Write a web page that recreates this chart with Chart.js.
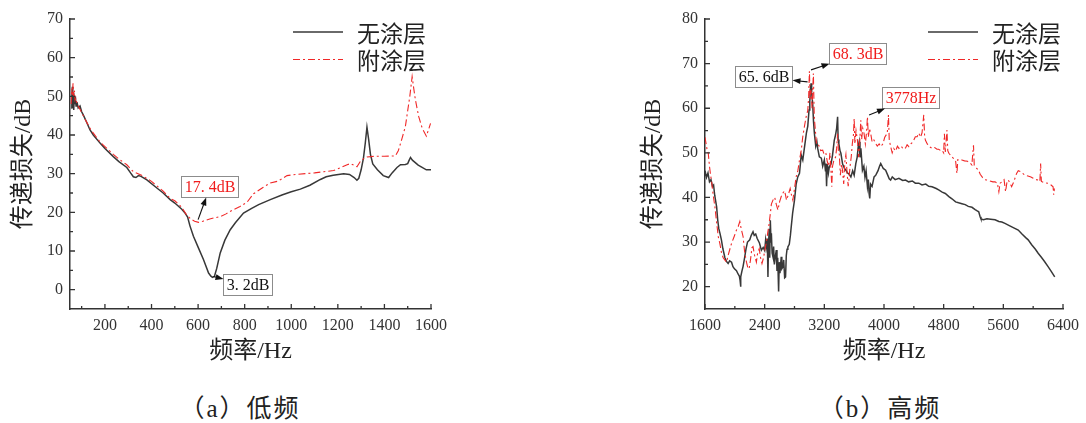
<!DOCTYPE html>
<html>
<head>
<meta charset="utf-8">
<title>传递损失</title>
<script src="https://cdn.jsdelivr.net/npm/chart.js@4.4.1/dist/chart.umd.min.js"></script>
<style>
  html, body { margin: 0; padding: 0; background: #fff; }
  body { width: 1086px; height: 423px; position: relative; overflow: hidden; }
  canvas { position: absolute; top: 0; }
  #cLow { left: 0; }
  #cHigh { left: 600px; }
  .cap { position: absolute; top: 394px; line-height: 30px; font-size: 25px; letter-spacing: 2px;
         font-family: 'Liberation Serif', 'Noto Sans CJK SC', serif; color: #222;
         transform: translateX(-50%); white-space: nowrap; }
</style>
</head>
<body>
<canvas id="cLow" width="543" height="380"></canvas>
<canvas id="cHigh" width="486" height="380"></canvas>
<div class="cap" style="left:240px">（a）低频</div>
<div class="cap" style="left:880px">（b）高频</div>
<script>
// Series names
const seriesNames = ['无涂层', '附涂层'];

// Tick values
const lowTicksX = [200, 400, 600, 800, 1000, 1200, 1400, 1600];
const lowTicksY = [0, 10, 20, 30, 40, 50, 60, 70];
const highTicksX = [1600, 2400, 3200, 4000, 4800, 5600, 6400];
const highTicksY = [20, 30, 40, 50, 60, 70, 80];

// Low band, uncoated: [Hz, dB]
const lowBare = [
  [55,47],[58,50],[60,52.5],[62,47],[64,51],[66,46.5],[68,50],[70,48],[73,50],[76,47.5],
  [80,48.5],[85,47],[93,47.5],[100,46],[107,45.2],[120,43.5],[136,41.3],[150,40],[179,37.9],[200,36.5],
  [236,34.4],[260,33.1],[294,31.6],[310,30.2],[322,29.2],[333,29],[344,29.5],[355,29.3],[380,28.4],[423,26.3],
  [450,25],[480,23.3],[500,22.4],[530,20.8],[544,19.8],[555,18.8],[565,16.5],[580,13.8],[600,11],[623,7.8],
  [645,4.3],[655,3.5],[662,3.2],[670,3.4],[680,5.5],[695,9.5],[715,12.8],[738,15.5],[760,17.3],[795,19.8],
  [830,21],[860,22],[910,23.3],[960,24.5],[1000,25.3],[1039,26],[1080,27],[1125,28.5],[1150,29.2],[1180,29.6],
  [1225,30],[1250,29.8],[1270,29],[1282,28.3],[1290,28.8],[1300,31],[1310,34],[1318,38],[1325,42],[1332,39],
  [1340,35],[1350,32.5],[1370,31],[1395,29.5],[1418,29],[1433,30.2],[1454,31.6],[1469,32.3],[1490,32.4],[1500,32.6],
  [1505,33.3],[1512,34.2],[1520,33.5],[1530,33],[1545,32.2],[1560,31.7],[1580,31],[1600,31]
];

// Low band, coated: [Hz, dB]
const lowCoated = [
  [55,48],[58,52],[60,50],[63,53.4],[66,50],[69,51.5],[72,49],[76,49.5],[80,48],[90,47],
  [100,45.8],[120,43.5],[140,41.3],[179,38.2],[200,37],[236,35],[260,33.8],[294,32.3],[322,30.5],[360,29.5],
  [400,28],[450,25.5],[480,23.6],[500,23],[530,21.3],[552,19.2],[570,18.2],[585,17.7],[602,17.4],[620,17.7],
  [650,18.3],[695,18.9],[720,19.6],[752,20.7],[780,21.5],[810,22.6],[838,24.8],[853,25.4],[880,26.5],[910,27.6],
  [939,28],[955,28.5],[982,29.5],[1020,29.8],[1060,30],[1100,30.2],[1140,30.5],[1182,30.8],[1210,31.5],[1240,32.3],
  [1254,32.6],[1282,31.8],[1300,33.5],[1325,34.3],[1360,34.5],[1400,34.5],[1447,34.6],[1460,36],[1475,39],[1490,42.2],
  [1509,50],[1519,55.1],[1526,52],[1533,49.1],[1547,44.8],[1562,41.8],[1580,39.7],[1590,41.5],[1598,43]
];

// High band, uncoated: [Hz, dB]
const highBare = [
  [1600,46],[1620,44.5],[1640,45.5],[1660,43.5],[1680,44],[1700,42.5],[1715,42.8],[1730,40.5],[1745,39],[1756,37.9],
  [1770,35],[1785,33],[1800,32],[1820,30.5],[1840,28.5],[1867,26.5],[1890,25.6],[1910,25.2],[1930,25.8],[1956,25.5],
  [1975,24.5],[1995,24],[2022,23.6],[2045,22.8],[2060,22.4],[2070,21.5],[2076,20],[2082,22.2],[2095,23.5],[2110,24.5],
  [2133,26.7],[2150,28.5],[2170,30],[2200,30.5],[2220,31.5],[2244,32.3],[2260,31.5],[2280,31.8],[2300,30.8],[2330,29.8],
  [2356,28.2],[2380,28.8],[2400,28.1],[2413,30.5],[2425,29],[2435,30.8],[2444,22.2],[2450,28],[2460,33],[2468,26.5],
  [2476,34.9],[2485,30],[2490,32],[2500,27.5],[2511,26.7],[2520,29],[2530,25],[2545,27],[2556,28.2],[2565,23.5],
  [2575,26.5],[2587,18.9],[2595,25.5],[2605,23],[2622,26.7],[2630,24],[2644,24.4],[2655,26],[2668,22],[2680,22.2],
  [2690,27],[2700,28.4],[2711,28.9],[2730,29.5],[2745,31.5],[2756,33.4],[2775,36.5],[2800,39.4],[2822,43],[2844,44.6],
  [2867,45.4],[2890,49.5],[2911,48.4],[2940,52],[2960,54.5],[2978,56],[2995,59.6],[3005,61.5],[3015,64.5],[3022,65.6],
  [3030,63.5],[3044,61],[3055,57],[3067,54.3],[3085,51.5],[3100,52.5],[3111,51],[3133,49.1],[3160,48.8],[3178,47],
  [3200,48.4],[3215,46],[3222,47.6],[3230,42.5],[3240,47.5],[3255,45.5],[3267,46.9],[3290,47.5],[3310,49.5],[3333,52.8],
  [3350,54],[3365,55.5],[3378,58.1],[3385,53],[3395,52],[3410,50.5],[3422,49.9],[3445,47.5],[3470,46.5],[3489,46.1],
  [3510,45.5],[3533,45.2],[3556,44.6],[3580,46],[3600,45],[3622,47.6],[3640,49],[3655,51.5],[3667,52.5],[3678,49],
  [3690,51],[3711,46.1],[3730,47],[3745,44.5],[3760,46],[3778,42.4],[3790,44],[3800,40.9],[3809,39.8],[3820,43],
  [3840,42.5],[3867,44.6],[3890,45],[3920,46],[3940,47],[3956,47.6],[3975,47],[3990,46.5],[4022,46.1],[4050,45],
  [4070,44.2],[4089,43.9],[4111,44.6],[4150,44],[4200,44.3],[4250,43.8],[4289,43.9],[4330,43.5],[4380,43.7],[4420,43.2],
  [4467,43.2],[4510,42.8],[4560,43],[4600,42.5],[4644,42.4],[4700,42],[4733,41.7],[4780,41.2],[4822,40.9],[4870,40.2],
  [4911,39.7],[4960,39],[5000,38.8],[5044,38.6],[5089,38.4],[5130,38],[5180,37.8],[5222,37.3],[5250,37],[5270,36.8],
  [5289,35.7],[5300,35.2],[5333,35],[5380,35.2],[5430,35.1],[5489,35],[5540,34.6],[5580,34.5],[5622,34.2],[5680,33.7],
  [5740,33.2],[5800,32.7],[5850,31.8],[5900,31],[5933,30.5],[5980,29.4],[6030,28.4],[6067,27.5],[6110,26.6],[6150,25.7],
  [6200,24.5],[6240,23.5],[6289,22.2]
];

// High band, coated: [Hz, dB]
const highCoated = [
  [1600,53.5],[1615,52],[1630,50.5],[1644,49.9],[1660,47],[1675,45],[1689,43.5],[1710,40.5],[1733,37.9],[1755,34.5],
  [1778,31.2],[1800,29.6],[1822,27.5],[1844,26.5],[1865,26],[1889,25.5],[1910,27],[1935,28.5],[1956,29.7],[1990,31.2],
  [2022,32.7],[2045,33.5],[2067,34.6],[2085,33],[2111,31.2],[2130,28],[2156,25.5],[2175,24.2],[2191,24],[2210,26],
  [2230,28.8],[2244,29],[2265,27],[2289,25.5],[2305,27.5],[2327,28.5],[2345,26.5],[2364,25.2],[2385,26.5],[2405,28.5],
  [2422,29.9],[2440,32],[2455,33.5],[2476,36.4],[2490,38.5],[2511,39.4],[2535,40],[2555,38.5],[2578,37.2],[2600,39],
  [2622,40.2],[2645,41],[2667,41.5],[2680,40.5],[2693,39.4],[2715,40.5],[2742,42],[2760,40.5],[2778,39.4],[2800,42],
  [2822,44.6],[2845,46],[2867,48.4],[2890,50.5],[2910,53.5],[2933,55.9],[2955,58],[2978,59.5],[2990,62.6],[3000,68.3],
  [3010,62],[3022,64],[3035,60],[3053,67.8],[3065,58],[3080,55],[3095,52],[3111,52.1],[3133,51.4],[3150,50.5],
  [3178,50.6],[3200,49.5],[3222,49.8],[3240,48],[3260,47],[3275,50],[3289,46.1],[3300,42.4],[3310,47],[3330,48.5],
  [3350,49],[3365,51],[3378,54.3],[3390,50],[3400,49.9],[3415,45],[3430,47.5],[3444,46.1],[3460,43],[3475,48],
  [3489,49.6],[3505,45.5],[3520,42.5],[3533,44.6],[3545,47],[3560,49],[3575,52],[3590,54],[3600,57.7],[3610,52],
  [3625,55],[3644,52.8],[3660,49],[3670,51],[3689,57.3],[3700,53],[3715,55.5],[3733,54.3],[3750,52],[3765,54.5],
  [3778,58.1],[3790,53.5],[3805,55.5],[3822,54.3],[3840,52.5],[3860,53],[3889,52.1],[3910,51.5],[3935,52],[3956,51.4],
  [3985,52],[4010,53.5],[4044,54.4],[4060,58.5],[4070,53],[4089,51.4],[4110,50],[4130,51],[4156,50.4],[4180,51.5],
  [4200,51],[4230,51.5],[4260,50.8],[4289,51.1],[4310,51.8],[4333,51.4],[4360,52],[4390,52.5],[4420,53.6],[4444,53.6],
  [4467,54.4],[4490,53.5],[4510,54.5],[4533,58.5],[4545,53.5],[4556,52.8],[4580,52],[4600,51.5],[4644,51],[4680,51.2],
  [4710,50.8],[4733,50.8],[4760,50.5],[4778,50.6],[4800,50],[4810,54.3],[4822,50.2],[4844,55.1],[4855,50.5],[4870,49.9],
  [4890,49.5],[4911,49.1],[4940,48.6],[4960,48.2],[4978,45.4],[4990,48.5],[5020,48.5],[5044,48.4],[5080,48.2],[5120,48.1],
  [5150,47.8],[5178,47.3],[5200,51.7],[5210,47.2],[5240,46.6],[5267,46.1],[5290,45.2],[5320,44.5],[5350,44],[5378,43.9],
  [5420,43.7],[5460,43.5],[5489,43.5],[5520,43.2],[5540,41.3],[5556,43.2],[5580,43.5],[5610,44],[5630,41.3],[5650,43.6],
  [5667,43.9],[5690,43.2],[5711,42.4],[5740,43.5],[5778,45.4],[5800,46],[5830,45.8],[5860,45.4],[5889,45],[5930,44.8],
  [5970,44.6],[6000,44.3],[6040,44],[6067,43.9],[6090,43.6],[6100,47.6],[6110,43.6],[6150,43.3],[6200,43.2],[6240,42.8],
  [6267,42.4],[6275,40.6],[6285,42]
];

// Callout labels: the stated value, the point the arrow leaves from, the label centre (data units)
const lowCallouts = [
  { value: 17.4, unit: 'dB', color: '#f01c1c', from: [600, 18.1], box: [647, 26.8] },
  { value: 3.2, unit: 'dB', color: '#111111', from: [666, 3.4], box: [812, 1.4] }
];
const highCallouts = [
  { value: 65.6, unit: 'dB', color: '#111111', from: [2975, 65.9], box: [2378, 67.1] },
  { value: 68.3, unit: 'dB', color: '#f01c1c', from: [3022, 68.6], box: [3640, 72.2] },
  { value: 3778, unit: 'Hz', color: '#f01c1c', from: [3800, 58.5], box: [4356, 62.4] }
];

const BARE_COLOR = '#383838';
const COAT_COLOR = '#f02828';
const AXIS_COLOR = '#333333';
const SERIF = "'Liberation Serif', 'Noto Sans CJK SC', serif";
const CJK = "'Noto Sans CJK SC', sans-serif";

const toPts = arr => arr.map(([x, y]) => ({ x, y }));
const calloutText = c => Number.isInteger(c.value) ? c.value + c.unit
  : String(c.value).replace('.', '. ') + c.unit;

// Inward major and minor tick marks along the bottom and left axes
const inwardTicks = {
  id: 'inwardTicks',
  afterDatasetsDraw(chart, args, o) {
    const { ctx, chartArea: a } = chart;
    const marks = scale => {
      const major = scale.ticks.map(t => t.value);
      const step = major[1] - major[0];
      const minor = [];
      major.forEach(v => [v - step / 2, v + step / 2].forEach(m => {
        if (m > scale.min && m < scale.max && !minor.includes(m)) minor.push(m);
      }));
      return { major, minor };
    };
    ctx.save();
    ctx.strokeStyle = o.color;
    ctx.lineWidth = o.width;
    const xs = chart.scales.x, ys = chart.scales.y;
    const mx = marks(xs), my = marks(ys);
    ctx.beginPath();
    mx.major.forEach(v => { const p = xs.getPixelForValue(v); ctx.moveTo(p, a.bottom); ctx.lineTo(p, a.bottom - o.major); });
    mx.minor.forEach(v => { const p = xs.getPixelForValue(v); ctx.moveTo(p, a.bottom); ctx.lineTo(p, a.bottom - o.minor); });
    my.major.forEach(v => { const p = ys.getPixelForValue(v); ctx.moveTo(a.left, p); ctx.lineTo(a.left + o.major, p); });
    my.minor.forEach(v => { const p = ys.getPixelForValue(v); ctx.moveTo(a.left, p); ctx.lineTo(a.left + o.minor, p); });
    ctx.stroke();
    ctx.restore();
  }
};

// Legend in the upper right of the plot: line sample followed by the series name
const pairLegend = {
  id: 'pairLegend',
  afterDatasetsDraw(chart, args, o) {
    const { ctx } = chart;
    chart.data.datasets.forEach((ds, i) => {
      const y = o.y + i * o.gap;
      ctx.save();
      ctx.strokeStyle = ds.borderColor;
      ctx.lineWidth = ds.borderWidth;
      ctx.setLineDash(ds.borderDash || []);
      ctx.beginPath();
      ctx.moveTo(o.x, y);
      ctx.lineTo(o.x + o.len, y);
      ctx.stroke();
      ctx.setLineDash([]);
      ctx.fillStyle = '#222';
      ctx.font = o.font;
      ctx.textAlign = 'left';
      ctx.textBaseline = 'middle';
      ctx.fillText(ds.label, o.x + o.len + o.textGap, y + 1);
      ctx.restore();
    });
  }
};

// Boxed value labels with arrows pointing at the box
const callouts = {
  id: 'callouts',
  afterDatasetsDraw(chart, args, o) {
    const { ctx } = chart;
    const xs = chart.scales.x, ys = chart.scales.y;
    o.items.forEach(c => {
      const text = calloutText(c);
      ctx.save();
      ctx.font = o.font;
      const w = Math.round(ctx.measureText(text).width + 2 * o.padX);
      const h = o.height;
      const cx = xs.getPixelForValue(c.box[0]);
      const cy = ys.getPixelForValue(c.box[1]);
      const L = Math.round(cx - w / 2) + 0.5, T = Math.round(cy - h / 2) + 0.5;
      ctx.fillStyle = '#fff';
      ctx.fillRect(L, T, w, h);
      ctx.strokeStyle = '#8c8c8c';
      ctx.lineWidth = 1;
      ctx.strokeRect(L, T, w, h);
      ctx.fillStyle = c.color;
      ctx.textAlign = 'center';
      ctx.textBaseline = 'middle';
      ctx.fillText(text, L + w / 2, T + h / 2 + 1);

      // arrow from the curve towards the box edge
      const tx = xs.getPixelForValue(c.from[0]);
      const ty = ys.getPixelForValue(c.from[1]);
      const dx = (L + w / 2) - tx, dy = (T + h / 2) - ty;
      const tX = dx ? ((dx > 0 ? L : L + w) - tx) / dx : -Infinity;
      const tY = dy ? ((dy > 0 ? T : T + h) - ty) / dy : -Infinity;
      const t = Math.max(tX, tY);
      const hx = tx + t * dx, hy = ty + t * dy;
      const ang = Math.atan2(hy - ty, hx - tx);
      const al = 8, aw = 3;
      ctx.strokeStyle = '#111';
      ctx.fillStyle = '#111';
      ctx.lineWidth = 1.1;
      ctx.beginPath();
      ctx.moveTo(tx, ty);
      ctx.lineTo(hx - Math.cos(ang) * al * 0.8, hy - Math.sin(ang) * al * 0.8);
      ctx.stroke();
      ctx.beginPath();
      ctx.moveTo(hx, hy);
      ctx.lineTo(hx - Math.cos(ang) * al - Math.sin(ang) * aw, hy - Math.sin(ang) * al + Math.cos(ang) * aw);
      ctx.lineTo(hx - Math.cos(ang) * al + Math.sin(ang) * aw, hy - Math.sin(ang) * al - Math.cos(ang) * aw);
      ctx.closePath();
      ctx.fill();
      ctx.restore();
    });
  }
};

function makeChart(id, bare, coated, cfg) {
  return new Chart(document.getElementById(id), {
    type: 'line',
    data: {
      datasets: [
        { label: seriesNames[0], data: toPts(bare), borderColor: BARE_COLOR, borderWidth: 1.5, order: 1 },
        { label: seriesNames[1], data: toPts(coated), borderColor: COAT_COLOR, borderWidth: 1.1,
          borderDash: [7, 3, 2, 3], order: 0 }
      ]
    },
    options: {
      responsive: false,
      animation: false,
      devicePixelRatio: 1,
      elements: { point: { radius: 0 }, line: { tension: 0, fill: false } },
      layout: { padding: cfg.padding },
      plugins: {
        legend: { display: false },
        tooltip: { enabled: false },
        inwardTicks: { color: AXIS_COLOR, width: 1.3, major: 5, minor: 3 },
        pairLegend: { x: cfg.legendX, y: 32, gap: 27.5, len: 50, textGap: 14, font: '23px ' + CJK },
        callouts: { items: cfg.callouts, font: '16px ' + SERIF, padX: 3, height: 21 }
      },
      scales: {
        x: {
          type: 'linear',
          min: cfg.xMin, max: cfg.xMax,
          afterBuildTicks: s => { s.ticks = cfg.xTicks.map(v => ({ value: v })); },
          afterFit: s => { s.height = 71; },
          grid: { display: false, drawTicks: false },
          border: { display: true, color: AXIS_COLOR, width: 1.5 },
          ticks: { autoSkip: false, maxRotation: 0, padding: 7, color: '#333',
                   font: { family: SERIF, size: 16 }, callback: v => String(v) },
          title: { display: true, text: '频率/Hz', color: '#222',
                   font: { family: SERIF, size: 24 }, padding: { top: 0, bottom: 14 } }
        },
        y: {
          type: 'linear',
          min: cfg.yMin, max: cfg.yMax,
          afterBuildTicks: s => { s.ticks = cfg.yTicks.map(v => ({ value: v })); },
          afterFit: s => { s.width = cfg.yWidth; },
          grid: { display: false, drawTicks: false },
          border: { display: true, color: AXIS_COLOR, width: 1.5 },
          ticks: { autoSkip: false, padding: 7, color: '#333',
                   font: { family: SERIF, size: 16 }, callback: v => String(v) },
          title: { display: true, text: '传递损失/dB', color: '#222',
                   font: { family: SERIF, size: 24 }, padding: { top: cfg.yTitlePad, bottom: 0 } }
        }
      }
    },
    plugins: [inwardTicks, pairLegend, callouts]
  });
}

makeChart('cLow', lowBare, lowCoated, {
  xMin: 50, xMax: 1600, yMin: -5, yMax: 70,
  xTicks: lowTicksX, yTicks: lowTicksY,
  padding: { top: 19, right: 112, bottom: 0, left: 0 },
  yWidth: 70, yTitlePad: 9.6, legendX: 293, callouts: lowCallouts
});

makeChart('cHigh', highBare, highCoated, {
  xMin: 1600, xMax: 6400, yMin: 15, yMax: 80,
  xTicks: highTicksX, yTicks: highTicksY,
  padding: { top: 19, right: 21, bottom: 0, left: 0 },
  yWidth: 105, yTitlePad: 39.6, legendX: 328, callouts: highCallouts
});
</script>
</body>
</html>
